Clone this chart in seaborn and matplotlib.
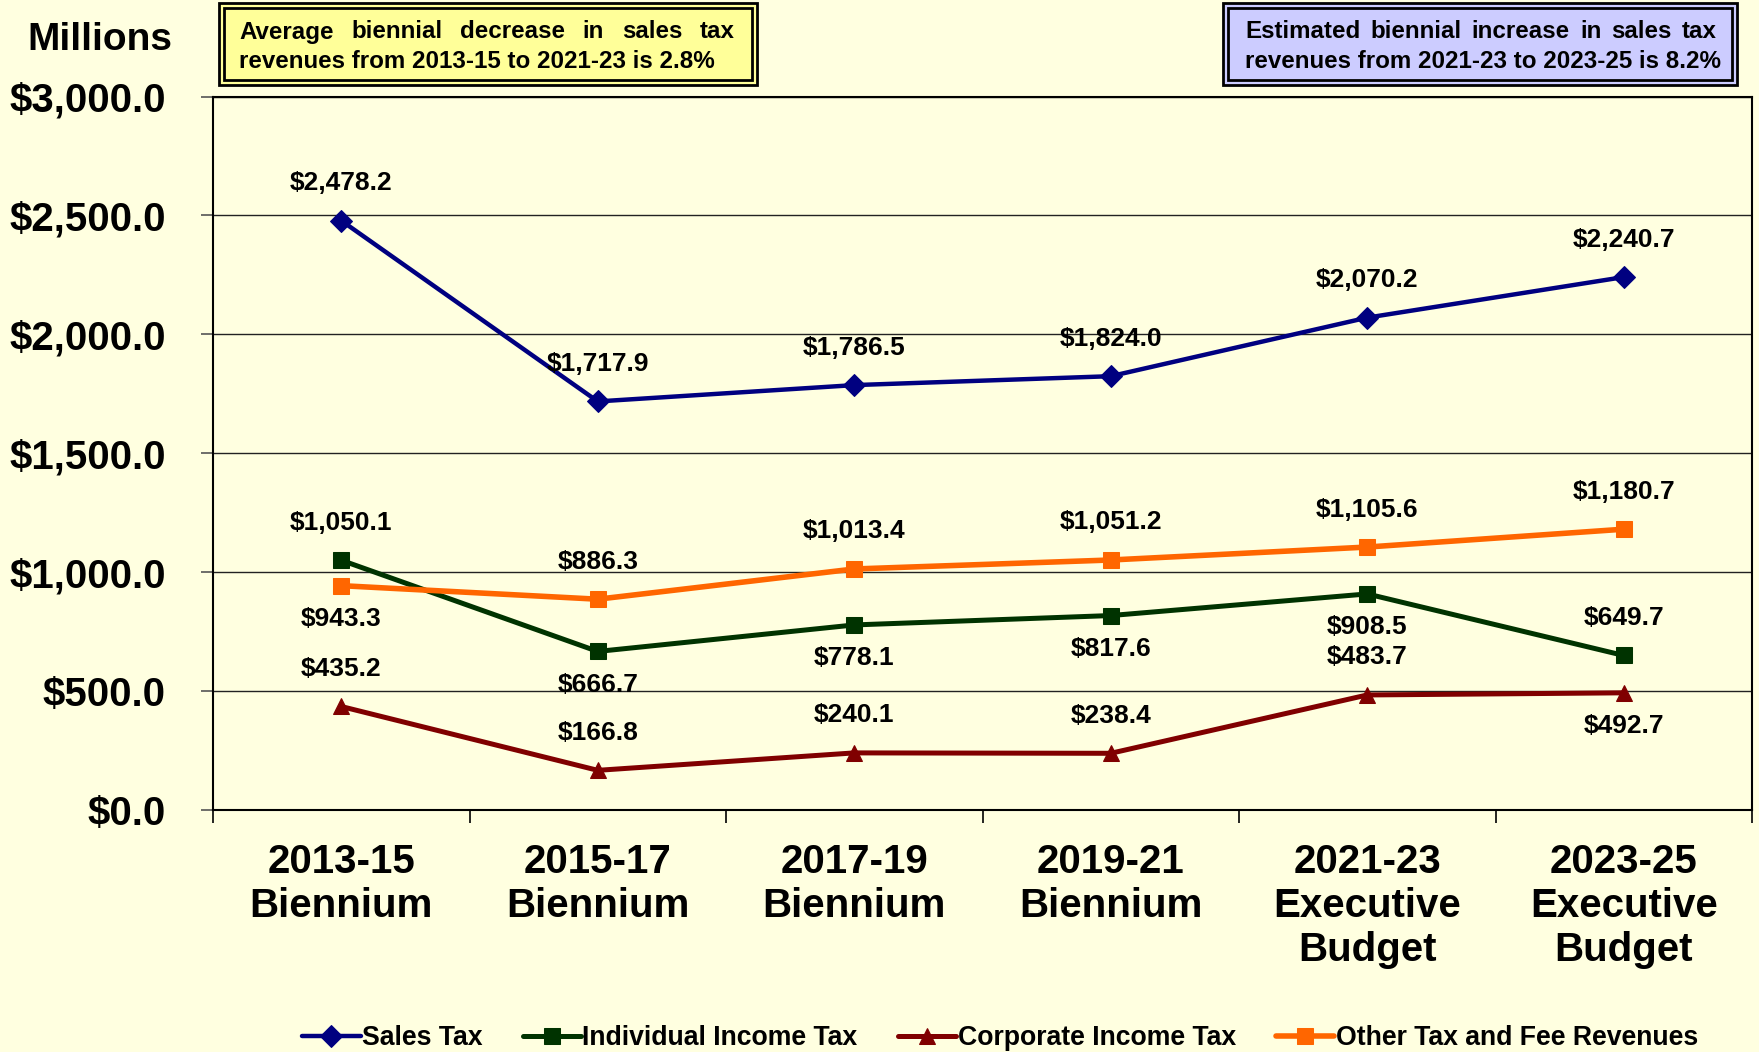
import matplotlib
matplotlib.use("Agg")
import matplotlib.pyplot as plt
import matplotlib.patches as mpatches
from matplotlib.ticker import FuncFormatter, FixedLocator
import seaborn as sns
import pandas as pd

categories = ["2013-15\nBiennium", "2015-17\nBiennium", "2017-19\nBiennium",
              "2019-21\nBiennium", "2021-23\nExecutive\nBudget", "2023-25\nExecutive\nBudget"]
sales_tax = [2478.2, 1717.9, 1786.5, 1824.0, 2070.2, 2240.7]
individual_income_tax = [1050.1, 666.7, 778.1, 817.6, 908.5, 649.7]
corporate_income_tax = [435.2, 166.8, 240.1, 238.4, 483.7, 492.7]
other_revenues = [943.3, 886.3, 1013.4, 1051.2, 1105.6, 1180.7]
series_names = ["Sales Tax", "Individual Income Tax", "Corporate Income Tax", "Other Tax and Fee Revenues"]
y_ticks = [0, 500, 1000, 1500, 2000, 2500, 3000]
box1_lines = ["Average biennial decrease in sales tax", "revenues from 2013-15 to 2021-23 is 2.8%"]
box2_lines = ["Estimated biennial increase in sales tax", "revenues from 2021-23 to 2023-25 is 8.2%"]

# label placement (a = above, b = below)
placements = {
    "Sales Tax": "aaaaaa",
    "Individual Income Tax": "abbbba",
    "Corporate Income Tax": "aaaaab",
    "Other Tax and Fee Revenues": "baaaaa",
}
styles = {
    "Sales Tax": dict(color="#000080", marker="D", markersize=11.5, lw=3.2),
    "Individual Income Tax": dict(color="#003300", marker="s", markersize=15, lw=3.6),
    "Corporate Income Tax": dict(color="#800000", marker="^", markersize=15.5, lw=3.6),
    "Other Tax and Fee Revenues": dict(color="#FF6600", marker="s", markersize=15, lw=4.0),
}
values = {
    "Sales Tax": sales_tax,
    "Individual Income Tax": individual_income_tax,
    "Corporate Income Tax": corporate_income_tax,
    "Other Tax and Fee Revenues": other_revenues,
}

BG = "#FFFFE0"
sns.set_theme(style="white")
plt.rcParams["font.family"] = ["Liberation Sans", "DejaVu Sans"]
plt.rcParams["font.weight"] = "bold"
for k in ["text.color", "axes.labelcolor", "xtick.color", "ytick.color"]:
    plt.rcParams[k] = "black"

W, H = 1759, 1052
fig = plt.figure(figsize=(W / 100, H / 100), dpi=100, facecolor=BG)
ax = fig.add_axes([213 / W, 1 - 810 / H, (1752 - 213) / W, (810 - 96.5) / H])
ax.set_facecolor(BG)

rows = []
for name in series_names:
    for i, v in enumerate(values[name]):
        rows.append(dict(x=i, value=v, series=name))
df = pd.DataFrame(rows)

for name in series_names:
    st = styles[name]
    sub = df[df.series == name]
    sns.lineplot(data=sub, x="x", y="value", ax=ax, color=st["color"], marker=st["marker"],
                 markersize=st["markersize"], linewidth=st["lw"], markeredgecolor=st["color"],
                 label=name, zorder=3)
    for i, v in enumerate(values[name]):
        above = placements[name][i] == "a"
        ax.annotate(f"${v:,.1f}", (i, v), xytext=(0, 27 if above else -24), textcoords="offset points",
                    ha="center", va="center", fontsize=19, fontweight="bold", color="black", zorder=4)

ax.set_xlim(-0.5, 5.5)
ax.set_ylim(0, 3000)
ax.yaxis.set_major_locator(FixedLocator(y_ticks))
ax.yaxis.set_major_formatter(FuncFormatter(lambda v, p: f"${v:,.1f}"))
ax.set_xticks(range(len(categories)))
ax.set_xticklabels(categories, fontsize=29, fontweight="bold", linespacing=1.2)
ax.set_xticks([i - 0.5 for i in range(len(categories) + 1)], minor=True)
ax.tick_params(axis="x", which="major", length=0, pad=24)
ax.tick_params(axis="x", which="minor", length=9, width=1.2, color="black", direction="out", bottom=True)
ax.tick_params(axis="y", which="major", length=9, width=1.2, color="#555555", direction="out",
               left=True, pad=25, labelsize=29)
for lab in ax.get_yticklabels():
    lab.set_fontweight("bold")
ax.set_xlabel("")
ax.set_ylabel("")
ax.grid(axis="y", color="#222222", linewidth=1.0)
ax.grid(axis="x", visible=False)
for s in ax.spines.values():
    s.set_visible(True)
    s.set_color("black")
    s.set_linewidth(1.5)

handles, labels = ax.get_legend_handles_labels()
ax.get_legend().remove()
for h in handles:
    h.set_markersize(11)
fig.legend(handles, labels, loc="center", bbox_to_anchor=(1000 / W, 1 - 1038 / H), ncol=4,
           frameon=False, handlelength=2.2, handletextpad=0.05, columnspacing=1.5,
           prop=dict(family=["Liberation Sans", "DejaVu Sans"], weight="bold", size=19.2))

fig.text(100 / W, 1 - 40 / H, "Millions", ha="center", va="center", fontsize=28, fontweight="bold")


def draw_box(x0, x1, y0, y1, fill, lines, tx0, tx1, ys, fs):
    outer = mpatches.Rectangle((x0 / W, 1 - y1 / H), (x1 - x0) / W, (y1 - y0) / H,
                               transform=fig.transFigure, facecolor=fill, edgecolor="black",
                               linewidth=2.0, zorder=1)
    g = 5
    inner = mpatches.Rectangle(((x0 + g) / W, 1 - (y1 - g) / H), (x1 - x0 - 2 * g) / W,
                               (y1 - y0 - 2 * g) / H, transform=fig.transFigure,
                               facecolor="none", edgecolor="black", linewidth=2.0, zorder=2)
    fig.patches.extend([outer, inner])
    r = fig.canvas.get_renderer()
    words = lines[0].split()
    texts = [fig.text(0, 1 - ys[0] / H, w, ha="left", va="center", fontsize=fs,
                      fontweight="bold", zorder=3) for w in words]
    widths = [t.get_window_extent(r).width for t in texts]
    gap = ((tx1 - tx0) - sum(widths)) / (len(words) - 1)
    x = tx0
    for t, w in zip(texts, widths):
        t.set_x(x / W)
        x += w + gap
    fig.text(tx0 / W, 1 - ys[1] / H, lines[1], ha="left", va="center", fontsize=fs,
             fontweight="bold", zorder=3)


fig.canvas.draw()
draw_box(219, 757, 3, 85, "#FFFF99", box1_lines, 239, 735, (32, 61), 17.4)
draw_box(1223, 1737, 3, 85, "#CCCCFF", box2_lines, 1245, 1717, (32, 61), 17.4)

fig.savefig("out.png", dpi=100, facecolor=BG)
